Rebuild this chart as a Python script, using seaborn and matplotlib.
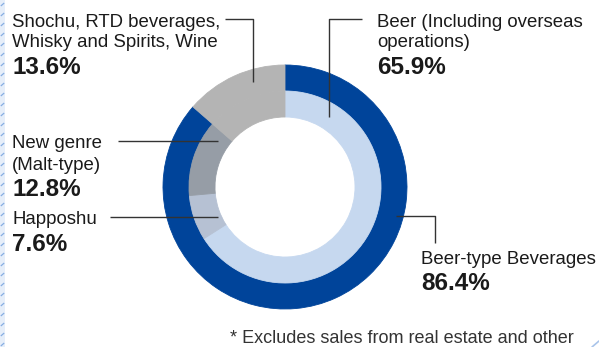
import matplotlib
matplotlib.use("Agg")
import matplotlib.pyplot as plt
import seaborn as sns

# Sales composition (%)
outer_labels = ["Beer-type Beverages", "Shochu, RTD beverages,\nWhisky and Spirits, Wine"]
outer_values = [86.4, 13.6]
inner_labels = ["Beer (Including overseas\noperations)", "Happoshu", "New genre\n(Malt-type)",
                "Shochu, RTD beverages,\nWhisky and Spirits, Wine"]
inner_values = [65.9, 7.6, 12.8, 13.6]
footnote = "* Excludes sales from real estate and other"

sns.set_theme(style="white")
plt.rcParams["font.family"] = ["Liberation Sans", "DejaVu Sans"]

outer_colors = sns.color_palette(["#00449A", "#B4B4B4"])
inner_colors = sns.color_palette(["#C6D8EF", "#B6C1D3", "#969DA6", "#B4B4B4"])

W, H = 599, 347
fig = plt.figure(figsize=(W / 100, H / 100), dpi=100)
ax = fig.add_axes([0, 0, 1, 1])


def Y(y):
    """Convert a top-down pixel row to the axes' upward y coordinate."""
    return H - y


cx, cy = 285, Y(187)
r_out, r_mid, ring = 122, 96, 26

outer, _ = ax.pie(outer_values, radius=r_out, center=(cx, cy), startangle=90,
                  counterclock=False, colors=outer_colors,
                  wedgeprops=dict(width=ring, linewidth=0.6))
inner, _ = ax.pie(inner_values, radius=r_mid, center=(cx, cy), startangle=90,
                  counterclock=False, colors=inner_colors,
                  wedgeprops=dict(width=ring, linewidth=0.6))
for w in list(outer) + list(inner):
    w.set_edgecolor(w.get_facecolor())

ax.set_xlim(0, W)
ax.set_ylim(0, H)
ax.set_aspect("auto")
ax.axis("off")

# Decorative hatched strip along the left edge
ax.add_patch(plt.Rectangle((0, 0), 5, H, facecolor="#E6EEF9", edgecolor="none", zorder=0))
for yy in range(3, H, 10):
    ax.plot([0.8, 4.2], [Y(yy + 3), Y(yy)], color="#86AEE3", lw=0.9, solid_capstyle="butt")
ax.plot([592, 599], [Y(347), Y(341)], color="#A9C4EA", lw=1.2)

txt = "#1A1A1A"
line_c = "#333333"
fs_lab, fs_pct = 13.4, 17.5


def label(x, y_base, text, pct, line_gap=20, pct_gap=27):
    lines = text.split("\n")
    for i, ln in enumerate(lines):
        ax.text(x, Y(y_base + i * line_gap), ln, fontsize=fs_lab, color=txt,
                ha="left", va="baseline")
    ax.text(x, Y(y_base + (len(lines) - 1) * line_gap + pct_gap), f"{pct:.1f}%",
            fontsize=fs_pct, fontweight="bold", color=txt, ha="left", va="baseline")


def leader(xs, ys):
    ax.plot(xs, [Y(v) for v in ys], color=line_c, lw=1.0, solid_capstyle="butt")


# Shochu / RTD / Whisky / Wine
label(12, 27, outer_labels[1], outer_values[1])
leader([225, 253, 253], [19, 19, 82])

# Beer
label(377, 27, inner_labels[0], inner_values[0])
leader([362, 329, 329], [19, 19, 117])

# New genre
label(12, 148, inner_labels[2], inner_values[2], line_gap=22, pct_gap=26)
leader([118, 218], [141, 141])

# Happoshu
label(12, 224, inner_labels[1], inner_values[1], pct_gap=27)
leader([110, 218], [217, 217])

# Beer-type beverages
label(421, 264, outer_labels[0], outer_values[0], pct_gap=26)
leader([396, 435, 435], [216, 216, 243])

ax.text(230, Y(343), footnote, fontsize=13.0, color="#333333", ha="left", va="baseline")

fig.savefig("out.png", dpi=100, facecolor="white")
